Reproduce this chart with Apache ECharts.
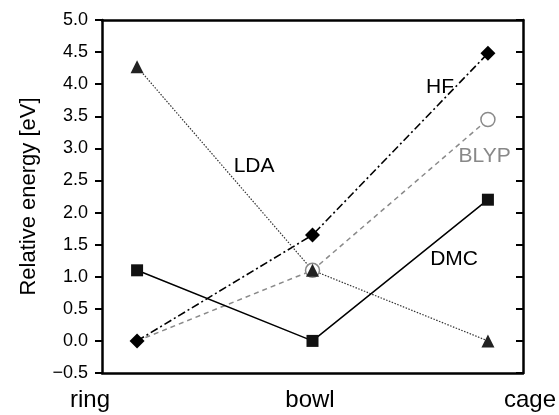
<!DOCTYPE html>
<html>
<head>
<meta charset="utf-8">
<script src="https://cdn.jsdelivr.net/npm/echarts@6/dist/echarts.min.js"></script>
<style>html,body{margin:0;padding:0;background:#fff}#c{width:559px;height:415px}</style>
</head>
<body>
<div id="c"></div>
<script>
var categories = ['ring', 'bowl', 'cage'];
var xPositions = [0, 1, 2];
var ldaValues = [4.27, 1.1, 0.0];
var dmcValues = [1.1, 0.0, 2.2];
var hfValues = [0.0, 1.65, 4.48];
var blypValues = [0.0, 1.1, 3.45];
var yTicks = { min: -0.5, max: 5.0, step: 0.5 };
var annotations = [
  { text: 'LDA', x: 0.667, y: 2.725, color: '#000' },
  { text: 'HF', x: 1.727, y: 3.95, color: '#000' },
  { text: 'BLYP', x: 1.981, y: 2.88, color: '#888' },
  { text: 'DMC', x: 1.807, y: 1.27, color: '#000' }
];

function pairs(vals) { return vals.map(function (v, i) { return [xPositions[i], v]; }); }
var FONT = 'Liberation Sans, Arial, Helvetica, sans-serif';
function border() { return { show: true, onZero: false, lineStyle: { color: '#000', width: 2.5 } }; }

var chart = echarts.init(document.getElementById('c'));
chart.setOption({
  animation: false,
  backgroundColor: '#fff',
  grid: [
    { left: 102, right: 36, top: 20, bottom: 42, show: false },
    { left: 90, right: 28.5, top: 20, bottom: 42, show: false }
  ],
  xAxis: [
    { type: 'value', gridIndex: 0, position: 'bottom', min: -0.2, max: 2.2, axisLine: border(), axisTick: { show: false }, axisLabel: { show: false }, splitLine: { show: false } },
    { type: 'value', gridIndex: 0, position: 'top', min: -0.2, max: 2.2, axisLine: border(), axisTick: { show: false }, axisLabel: { show: false }, splitLine: { show: false } },
    { type: 'category', gridIndex: 1, data: categories, boundaryGap: false, axisLine: { show: false }, axisTick: { show: false }, splitLine: { show: false },
      axisLabel: { fontSize: 24, color: '#000', fontFamily: FONT, margin: 15, interval: 0 } }
  ],
  yAxis: [
    { type: 'value', gridIndex: 0, min: yTicks.min, max: yTicks.max, interval: yTicks.step, position: 'left',
      name: 'Relative energy [eV]', nameLocation: 'middle', nameRotate: 90, nameGap: 62,
      nameTextStyle: { fontSize: 22, color: '#000', fontFamily: FONT },
      axisLine: border(), splitLine: { show: false },
      axisTick: { show: true, inside: false, length: 7, lineStyle: { color: '#000', width: 2 } },
      axisLabel: { fontSize: 18, color: '#000', fontFamily: FONT, margin: 14,
        formatter: function (v) { return v.toFixed(1).replace('-', '\u2212'); } } },
    { type: 'value', gridIndex: 0, min: yTicks.min, max: yTicks.max, interval: yTicks.step, position: 'right',
      axisLine: border(), splitLine: { show: false }, axisLabel: { show: false },
      axisTick: { show: true, inside: true, length: 7, lineStyle: { color: '#000', width: 2 } } },
    { type: 'value', gridIndex: 1, show: false, min: 0, max: 1 }
  ],
  series: [
    { name: 'BLYP', type: 'line', xAxisIndex: 0, yAxisIndex: 0,
      data: pairs(blypValues).map(function (p, i) { return i === 0 ? { value: p, symbol: 'none' } : p; }),
      symbol: 'circle', symbolSize: 14,
      lineStyle: { color: '#8a8a8a', width: 1.5, type: [5, 4] },
      itemStyle: { color: '#fff', borderColor: '#8a8a8a', borderWidth: 1.5 } },
    { name: 'HF', type: 'line', xAxisIndex: 0, yAxisIndex: 0, data: pairs(hfValues),
      symbol: 'diamond', symbolSize: 15,
      lineStyle: { color: '#000', width: 1.6, type: [8, 3, 2, 3] },
      itemStyle: { color: '#000' } },
    { name: 'LDA', type: 'line', xAxisIndex: 0, yAxisIndex: 0, data: pairs(ldaValues),
      symbol: 'triangle', symbolSize: 13,
      lineStyle: { color: '#333', width: 1.2, type: [1.5, 1.5] },
      itemStyle: { color: '#222' } },
    { name: 'DMC', type: 'line', xAxisIndex: 0, yAxisIndex: 0, data: pairs(dmcValues),
      symbol: 'rect', symbolSize: 12,
      lineStyle: { color: '#000', width: 1.5, type: 'solid' },
      itemStyle: { color: '#111' },
      markPoint: {
        symbol: 'circle', symbolSize: 0, silent: true,
        data: annotations.map(function (a) {
          return { coord: [a.x, a.y], label: { show: true, position: 'inside', formatter: a.text, fontSize: 21, color: a.color, fontFamily: FONT } };
        })
      } }
  ]
});
</script>
</body>
</html>
